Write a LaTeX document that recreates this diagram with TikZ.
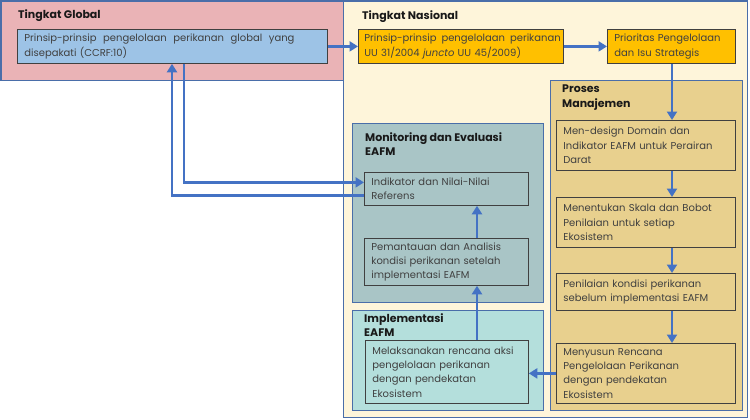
\documentclass[tikz,border=0pt]{standalone}
\usepackage{fontspec}
\setmainfont{Poppins}
\usetikzlibrary{arrows.meta,calc}
\definecolor{pinkbg}{HTML}{EAB3B6}
\definecolor{bluebox}{HTML}{9DC3E6}
\definecolor{creambg}{HTML}{FEF5DA}
\definecolor{orangebox}{HTML}{FFC000}
\definecolor{tanbg}{HTML}{E8D08E}
\definecolor{monbg}{HTML}{A9C5C6}
\definecolor{impbg}{HTML}{B4DFDC}
\definecolor{panelline}{HTML}{4A6EA9}
\definecolor{arrowblue}{HTML}{4472C4}
\definecolor{txtgray}{HTML}{404040}
\tikzset{
  panel/.style={draw=panelline, line width=1.1pt, inner sep=0pt, anchor=north west},
  box/.style={draw=black!75, line width=0.8pt, anchor=north west, inner xsep=7pt, inner ysep=1pt,
    align=left, font=\fontsize{10}{14.3}\selectfont, text=txtgray},
  ptitle/.style={anchor=north west, inner sep=0pt, align=left, font=\fontsize{11}{14.5}\selectfont\bfseries, text=black!90},
  flow/.style={draw=arrowblue, line width=2.9pt, -{Triangle[length=8.5pt,width=10pt]}},
}
\begin{document}
\begin{tikzpicture}[x=1pt,y=-1pt]
\useasboundingbox (0,0) rectangle (750,420);
% panels
\node[panel, fill=creambg, minimum width=404pt, minimum height=416.5pt] (national) at (343,0.5) {};
\node[panel, fill=pinkbg, minimum width=342.5pt, minimum height=79.5pt] (global) at (0.5,0.5) {};
\node[panel, fill=tanbg, minimum width=192pt, minimum height=330pt] (proses) at (550,80) {};
\node[panel, fill=monbg, minimum width=191pt, minimum height=179pt] (mon) at (352,123) {};
\node[panel, fill=impbg, minimum width=191pt, minimum height=100pt] (imp) at (352,310) {};
% titles
\node[ptitle] (tglobal) at (18,9) {Tingkat Global};
\node[ptitle] (tnas) at (362,10) {Tingkat Nasional};
\node[ptitle] (tpros) at (562,85) {Proses\\Manajemen};
\node[ptitle] (tmon) at (365,132) {Monitoring dan Evaluasi\\EAFM};
\node[ptitle] (timp) at (364,313) {Implementasi\\EAFM};
% boxes
\node[box, fill=bluebox, text width=296pt, minimum height=34pt] (ginner) at (17,29)
  {Prinsip-prinsip \ pengelolaan \ perikanan \ global \ yang\\disepakati (CCRF:10)};
\node[box, fill=orangebox, inner xsep=6pt, text width=193pt, minimum height=34pt] (p1) at (358,29)
  {\mbox{Prinsip-prinsip\hspace{5pt}pengelolaan\hspace{5pt}perikanan}\\UU 31/2004 \textit{juncto} UU 45/2009)};
\node[box, fill=orangebox, text width=114pt, minimum height=34pt] (p2) at (607,29)
  {Prioritas Pengelolaan\\dan Isu Strategis};
\node[box, text width=165pt, minimum height=50pt] (pm1) at (556,120)
  {Men-design Domain dan\\\mbox{Indikator EAFM untuk Perairan}\\Darat};
\node[box, text width=165pt, minimum height=50pt] (pm2) at (556,197)
  {Menentukan Skala dan Bobot\\Penilaian untuk setiap\\Ekosistem};
\node[box, text width=165pt, minimum height=37pt] (pm3) at (556,273)
  {Penilaian kondisi perikanan\\sebelum implementasi EAFM};
\node[box, text width=165pt, minimum height=60pt] (pm4) at (556,343)
  {Menyusun Rencana\\Pengelolaan Perikanan\\dengan pendekatan\\Ekosistem};
\node[box, text width=150pt, minimum height=33pt] (me1) at (364,172)
  {Indikator dan Nilai-Nilai\\Referens};
\node[box, text width=150pt, minimum height=47pt] (me2) at (364,238)
  {Pemantauan dan Analisis\\kondisi perikanan setelah\\implementasi EAFM};
\node[box, text width=149pt, minimum height=63pt] (im1) at (365,340)
  {\mbox{Melaksanakan rencana aksi}\\pengelolaan perikanan\\dengan pendekatan\\Ekosistem};
% helper coordinates
\coordinate (ax) at (672,0);
\coordinate (bx) at (477,0);
\coordinate (c1) at (184,0);
\coordinate (c2) at (172,0);
% arrows
\draw[flow] (ginner.east) -- (p1.west);
\draw[flow] (p1.east) -- (p2.west);
\draw[flow] (p2.south -| ax) -- (pm1.north -| ax);
\draw[flow] (pm1.south -| ax) -- (pm2.north -| ax);
\draw[flow] (pm2.south -| ax) -- (pm3.north -| ax);
\draw[flow] (pm3.south -| ax) -- (pm4.north -| ax);
\draw[flow] (pm4.west) -- (pm4.west -| im1.east);
\draw[flow] (im1.north -| bx) -- (me2.south -| bx);
\draw[flow] (me2.north -| bx) -- (me1.south -| bx);
\draw[flow] (ginner.south -| c1) |- ([yshift=6.5pt]me1.west);
\draw[flow] ([yshift=-6.5pt]me1.west) -| (ginner.south -| c2);
\end{tikzpicture}
\end{document}
